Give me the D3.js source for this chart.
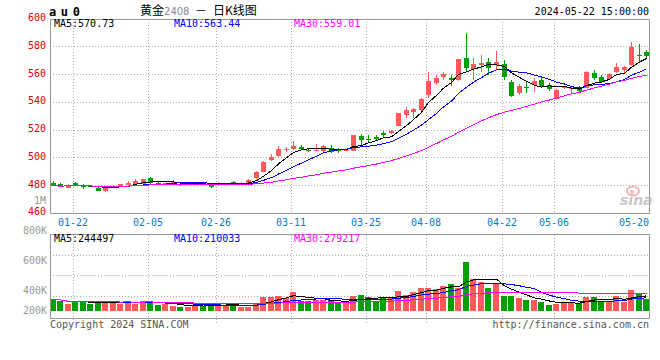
<!DOCTYPE html>
<html>
<head>
<meta charset="utf-8">
<script src="https://cdn.jsdelivr.net/npm/d3@7"></script>
<style>
  body { margin: 0; background: #fff; }
  text { font-family: "DejaVu Sans Mono", monospace; font-size: 10px; }
</style>
</head>
<body>
<div id="chart"></div>
<script>
// au2408 daily bars, 2024-01-17 .. 2024-05-22
var dates = ["01-17","01-18","01-19","01-22","01-23","01-24","01-25","01-26","01-29","01-30",
  "01-31","02-01","02-02","02-05","02-06","02-07","02-08","02-19","02-20","02-21",
  "02-22","02-23","02-26","02-27","02-28","02-29","03-01","03-04","03-05","03-06",
  "03-07","03-08","03-11","03-12","03-13","03-14","03-15","03-18","03-19","03-20",
  "03-21","03-22","03-25","03-26","03-27","03-28","03-29","04-01","04-02","04-03",
  "04-08","04-09","04-10","04-11","04-12","04-15","04-16","04-17","04-18","04-19",
  "04-22","04-23","04-24","04-25","04-26","04-29","04-30","05-06","05-07","05-08",
  "05-09","05-10","05-13","05-14","05-15","05-16","05-17","05-20","05-21","05-22"];

var opens = [482.1,481.2,478.5,482.1,480.5,479.8,478.5,476.1,478.5,479.7,
  480.6,481.2,481.2,485.3,481.8,481.4,482.6,481.3,481.0,480.8,
  481.0,480.5,480.2,480.4,482.4,481.0,481.2,485.3,490.0,498.5,
  501.4,506.0,506.2,508.0,505.8,505.5,504.7,507.3,505.8,505.2,
  505.2,516.0,513.7,515.2,517.7,517.7,523.2,530.9,533.2,534.5,
  545.3,554.1,558.5,557.2,556.1,571.7,564.0,566.9,568.8,566.9,
  567.4,554.4,546.9,550.9,552.5,556.1,552.5,542.4,550.0,549.8,
  550.8,550.5,561.3,558.5,556.8,562.0,563.3,566.9,574.3,576.5];

var closes = [480.0,479.2,480.5,480.2,479.3,479.6,476.4,478.5,479.9,481.0,
  482.1,483.1,484.8,482.1,481.6,481.7,482.9,481.1,481.1,481.1,
  480.9,479.2,482.1,481.0,480.6,482.1,484.1,490.0,497.0,500.8,
  506.4,506.3,508.5,506.4,505.6,505.9,508.5,504.2,505.6,505.9,
  516.2,512.6,513.5,513.8,516.2,519.6,532.0,534.5,535.2,542.4,
  555.4,557.7,560.2,555.8,571.2,564.5,567.6,568.5,564.9,569.3,
  558.5,544.8,552.0,550.6,555.6,551.8,549.4,548.9,551.0,550.2,
  548.2,562.0,557.7,554.8,560.2,565.6,565.6,580.0,573.4,573.4];

var highs = [483.6,481.8,481.0,482.6,481.0,480.2,479.0,479.0,480.3,481.4,
  483.1,484.5,485.0,486.5,482.4,482.2,483.8,482.0,481.5,481.6,
  481.3,480.8,482.5,481.3,483.0,482.6,484.6,490.8,498.0,502.7,
  508.7,507.7,511.9,509.2,506.9,509.8,509.0,509.1,507.0,506.4,
  516.5,517.5,516.5,516.7,519.6,520.4,532.4,536.5,535.8,542.8,
  562.0,559.6,562.1,559.6,571.5,589.7,571.7,574.2,572.2,577.0,
  570.8,556.1,553.0,554.9,557.3,558.5,554.2,549.5,551.6,551.8,
  551.6,562.5,563.6,559.6,561.0,568.5,566.0,583.7,582.0,577.5];

var lows = [479.5,478.8,478.0,479.8,477.6,479.2,475.8,475.5,478.0,479.2,
  480.2,480.8,480.8,480.5,481.0,481.0,481.6,480.0,480.5,480.5,
  480.6,478.1,479.8,480.1,480.2,480.8,480.8,485.0,489.5,497.5,
  500.9,504.5,505.8,505.3,503.9,505.0,504.2,503.4,503.4,504.8,
  504.8,507.5,510.5,512.5,514.7,517.0,522.7,529.0,528.6,533.5,
  543.4,552.4,556.1,551.4,555.5,561.6,556.1,561.6,559.5,564.3,
  556.0,543.6,545.3,546.5,547.7,551.2,548.3,542.0,549.5,547.0,
  547.2,550.0,556.3,554.0,556.3,561.4,561.0,566.5,569.3,571.6];

var volumes = [194000,161000,113000,161000,150000,113000,161000,140000,140000,113000,
  161000,113000,161000,161000,97000,113000,81000,69000,69000,97000,
  85000,108000,108000,85000,108000,69000,69000,134000,231000,231000,
  247000,215000,311000,161000,161000,177000,177000,177000,124000,130000,
  247000,258000,231000,161000,215000,204000,328000,258000,311000,376000,
  376000,360000,403000,435000,366000,785000,516000,463000,376000,430000,
  247000,247000,204000,177000,177000,150000,97000,108000,150000,150000,
  124000,231000,231000,161000,150000,247000,150000,339000,285000,194000];

var priceTicks = [600, 580, 560, 540, 520, 500, 480, 460];
var volTicks = [800000, 600000, 400000, 200000];
var volTickText = ["800K", "600K", "400K", "200K"];
var dateTicks = ["01-22","02-05","02-26","03-11","03-25","04-08","04-22","05-06","05-20"];

var maPeriods = [5, 10, 30];
var maColors = ["#000000", "#0000ff", "#ff00ff"];
var priceMaText = ["MA5:570.73", "MA10:563.44", "MA30:559.01"];
var volMaText = ["MA5:244497", "MA10:210033", "MA30:279217"];

var red = "#ff5a5a", green = "#00a000";

var left = 50, right = 650;
var priceTop = 19, priceBottom = 213.4;
var volTop = 234.5, volBottom = 318.5, volBase = 311;

var svg = d3.select("#chart")
  .append("svg")
  .attr("width", 660)
  .attr("height", 360)
  .style("background", "#fff");

var x = d3.scaleBand().domain(dates).range([49, 650]);
var xc = function (d) { return Math.round(x(d) + x.bandwidth() / 2); };

var y = d3.scaleLinear().domain([460, 600]).range([priceBottom, priceTop]);
var yv = d3.scaleLinear().domain([0, 1000000]).range([volBase, volBase - 62]);
// the volume labels sit on their own spacing in the original
var yvLabel = d3.scaleLinear().domain([400000, 800000]).range([290.3, 230.3]);

function movingAvg(values, n) {
  return values.map(function (v, i) {
    return d3.mean(values.slice(Math.max(0, i - n + 1), i + 1));
  });
}

var rows = dates.map(function (d, i) {
  return { date: d, o: opens[i], c: closes[i], h: highs[i], l: lows[i], v: volumes[i] };
});

// grid
var grid = svg.append("g")
  .attr("stroke", "#aaa")
  .attr("stroke-dasharray", "1,2")
  .attr("shape-rendering", "crispEdges");

grid.selectAll(".vg")
  .data(dateTicks.slice(0, -1))
  .enter()
  .append("line")
  .attr("x1", function (d) { return xc(d) - 2 + 0.5; })
  .attr("x2", function (d) { return xc(d) - 2 + 0.5; })
  .attr("y1", priceTop)
  .attr("y2", priceBottom);

grid.selectAll(".vg2")
  .data(dateTicks.slice(0, -1))
  .enter()
  .append("line")
  .attr("x1", function (d) { return xc(d) - 2 + 0.5; })
  .attr("x2", function (d) { return xc(d) - 2 + 0.5; })
  .attr("y1", volTop)
  .attr("y2", volBottom + 4);

grid.selectAll(".hg")
  .data(priceTicks.slice(1, -1))
  .enter()
  .append("line")
  .attr("x1", left)
  .attr("x2", right)
  .attr("y1", function (d) { return Math.floor(y(d)) + 0.5; })
  .attr("y2", function (d) { return Math.floor(y(d)) + 0.5; });

grid.selectAll(".hg2")
  .data([1, 2, 3])
  .enter()
  .append("line")
  .attr("x1", left)
  .attr("x2", right)
  .attr("y1", function (k) { return Math.round(volTop + k * 20.4) + 0.5; })
  .attr("y2", function (k) { return Math.round(volTop + k * 20.4) + 0.5; });

// candles
var candles = svg.append("g").attr("shape-rendering", "crispEdges");

candles.selectAll(".wick")
  .data(rows)
  .enter()
  .append("line")
  .attr("x1", function (d) { return xc(d.date) + 0.5; })
  .attr("x2", function (d) { return xc(d.date) + 0.5; })
  .attr("y1", function (d) { return y(d.h); })
  .attr("y2", function (d) { return y(d.l); })
  .attr("stroke", function (d) { return d.c >= d.o ? red : green; });

candles.selectAll(".body")
  .data(rows)
  .enter()
  .append("rect")
  .attr("x", function (d) { return xc(d.date) - 2; })
  .attr("width", 5)
  .attr("y", function (d) { return y(Math.max(d.o, d.c)); })
  .attr("height", function (d) { return Math.max(1, Math.abs(y(d.o) - y(d.c))); })
  .attr("fill", function (d) { return d.c >= d.o ? red : green; });

// volume bars
svg.append("g")
  .attr("shape-rendering", "crispEdges")
  .selectAll("rect")
  .data(rows)
  .enter()
  .append("rect")
  .attr("x", function (d) { return xc(d.date) - 3; })
  .attr("width", 6)
  .attr("y", function (d) { return yv(d.v); })
  .attr("height", function (d) { return volBase - yv(d.v); })
  .attr("fill", function (d) { return d.c >= d.o ? red : green; });

// moving averages
maPeriods.forEach(function (n, k) {
  var pm = movingAvg(closes, n);
  var vm = movingAvg(volumes, n);

  svg.append("path")
    .datum(dates)
    .attr("fill", "none")
    .attr("stroke", maColors[k])
    .attr("stroke-width", 1)
    .attr("shape-rendering", "crispEdges")
    .attr("d", d3.line()
      .x(function (d) { return xc(d) + 0.5; })
      .y(function (d, i) { return y(pm[i]); }));

  svg.append("path")
    .datum(dates)
    .attr("fill", "none")
    .attr("stroke", maColors[k])
    .attr("stroke-width", 1)
    .attr("shape-rendering", "crispEdges")
    .attr("d", d3.line()
      .x(function (d) { return xc(d) + 0.5; })
      .y(function (d, i) { return yv(vm[i]); }));
});

// panel borders
svg.append("g")
  .attr("fill", "none")
  .attr("stroke", "#999")
  .attr("shape-rendering", "crispEdges")
  .selectAll("rect")
  .data([[priceTop, priceBottom], [volTop, volBottom]])
  .enter()
  .append("rect")
  .attr("x", left + 0.5)
  .attr("y", function (d) { return Math.floor(d[0]) + 0.5; })
  .attr("width", right - left - 1)
  .attr("height", function (d) { return Math.floor(d[1]) - Math.floor(d[0]); });

// price axis labels
svg.append("g")
  .selectAll("text")
  .data(priceTicks)
  .enter()
  .append("text")
  .attr("x", 46)
  .attr("y", function (d) { return Math.max(16, y(d) - 1.5); })
  .attr("dy", "0.35em")
  .attr("text-anchor", "end")
  .attr("fill", "#e00000")
  .text(function (d) { return d; });

svg.append("text")
  .attr("x", 46).attr("y", 200).attr("dy", "0.35em")
  .attr("text-anchor", "end").attr("fill", "#999")
  .text("1M");

// volume axis labels
svg.append("g")
  .selectAll("text")
  .data(volTicks)
  .enter()
  .append("text")
  .attr("x", 47)
  .attr("y", function (d) { return Math.min(310.3, yvLabel(d)); })
  .attr("dy", "0.35em")
  .attr("text-anchor", "end")
  .attr("fill", "#999")
  .text(function (d, i) { return volTickText[i]; });

// date labels
svg.append("g")
  .selectAll("text")
  .data(dateTicks)
  .enter()
  .append("text")
  .attr("x", function (d, i) { return i === dateTicks.length - 1 ? 649 : xc(d) - 2; })
  .attr("y", 222)
  .attr("dy", "0.35em")
  .attr("text-anchor", function (d, i) { return i === dateTicks.length - 1 ? "end" : "middle"; })
  .attr("fill", "#0a78d2")
  .text(function (d) { return d; });

// legends
var legendX = [54, 174, 294];
legendX.forEach(function (lx, k) {
  svg.append("text").attr("x", lx).attr("y", 23.7).attr("dy", "0.35em")
    .attr("fill", maColors[k]).text(priceMaText[k]);
  svg.append("text").attr("x", lx).attr("y", 238.5).attr("dy", "0.35em")
    .attr("fill", maColors[k]).text(volMaText[k]);
});

// header
svg.append("text")
  .attr("x", 49).attr("y", 15.5)
  .style("font-size", "12px").style("font-weight", "bold")
  .style("letter-spacing", "4.6px")
  .text("au0");

var title = svg.append("text")
  .attr("x", 140).attr("y", 15)
  .style("font-family", "'Noto Sans CJK SC', sans-serif")
  .style("font-size", "12px");
title.append("tspan").text("黄金");
title.append("tspan").attr("fill", "#888").style("font-family", "'DejaVu Sans', sans-serif")
  .style("font-size", "10px").text("2408");
title.append("tspan").attr("x", 195).text("－");
title.append("tspan").attr("x", 213).text("日K线图");

svg.append("text")
  .attr("x", 649).attr("y", 11.5).attr("dy", "0.35em")
  .attr("text-anchor", "end")
  .text("2024-05-22 15:00:00");

// footer
svg.append("text")
  .attr("x", 50).attr("y", 324).attr("dy", "0.35em")
  .attr("fill", "#555")
  .text("Copyright 2024 SINA.COM");

svg.append("text")
  .attr("x", 649).attr("y", 324).attr("dy", "0.35em")
  .attr("text-anchor", "end")
  .attr("fill", "#555")
  .text("http://finance.sina.com.cn");

// sina watermark
var logo = svg.append("g").attr("opacity", 0.75);
logo.append("ellipse").attr("cx", 633).attr("cy", 191).attr("rx", 6).attr("ry", 4.5)
  .attr("fill", "none").attr("stroke", "#f0a0a0").attr("stroke-width", 2);
logo.append("circle").attr("cx", 632).attr("cy", 192).attr("r", 2).attr("fill", "#f0a0a0");
logo.append("text")
  .attr("x", 620).attr("y", 205)
  .style("font-family", "'DejaVu Sans', sans-serif")
  .style("font-size", "14px").style("font-weight", "bold").style("font-style", "italic")
  .attr("fill", "#b4b4b4")
  .text("sina");
</script>
</body>
</html>
